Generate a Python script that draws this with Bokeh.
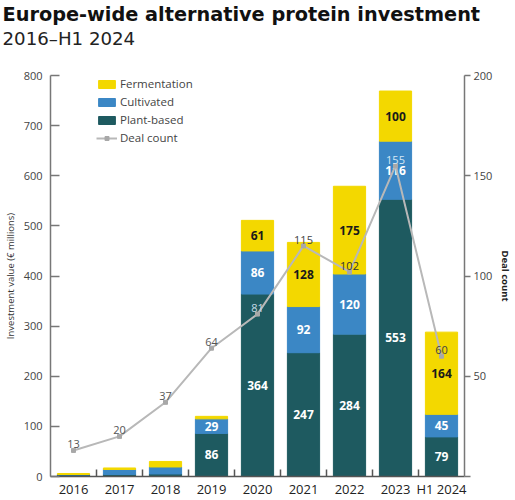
from bokeh.plotting import figure
from bokeh.models import (ColumnDataSource, Range1d, LinearAxis, FixedTicker, Title,
                          Legend, LegendItem)
from bokeh.core.properties import value
from bokeh.embed import file_html
from bokeh.resources import INLINE

years = ["2016", "2017", "2018", "2019", "2020", "2021", "2022", "2023", "H1 2024"]
plant_based = [3, 4, 5, 86, 364, 247, 284, 553, 79]
cultivated = [1, 10, 14, 29, 86, 92, 120, 116, 45]
fermentation = [2, 3, 11, 5, 61, 128, 175, 100, 164]
deal_count = [13, 20, 37, 64, 81, 115, 102, 155, 60]

C_PLANT = "#1e5a60"
C_CULT = "#3b87c5"
C_FERM = "#f3d800"
FONT = "Open Sans"
TFONT = "DejaVu Sans"

idx = list(range(len(years)))
p1 = plant_based
p2 = [a + b for a, b in zip(plant_based, cultivated)]
p3 = [a + b for a, b in zip(p2, fermentation)]

src = ColumnDataSource(dict(x=idx, b0=[0] * len(idx), b1=p1, b2=p2, b3=p3))

p = figure(width=515, height=500, output_backend="svg", toolbar_location=None,
           x_range=Range1d(-0.5, len(years) - 0.5), y_range=Range1d(0, 800),
           min_border=0, min_border_left=50, min_border_right=1, min_border_top=1,
           min_border_bottom=1, background_fill_color="white",
           border_fill_color="white", outline_line_color=None)
p.grid.visible = False

W = 0.7
r_plant = p.vbar(x="x", bottom="b0", top="b1", width=W, color=C_PLANT, source=src)
r_cult = p.vbar(x="x", bottom="b1", top="b2", width=W, color=C_CULT, source=src)
r_ferm = p.vbar(x="x", bottom="b2", top="b3", width=W, color=C_FERM, source=src)

def lab(vals, bottoms, color):
    xs, ys, ts = [], [], []
    for i, (v, b) in enumerate(zip(vals, bottoms)):
        if v >= 20:
            xs.append(i); ys.append(b + v / 2); ts.append(str(v))
    p.text(x=xs, y=ys, text=ts, text_color=color, text_align="center",
           text_baseline="middle", text_font=value(FONT), text_font_size="12px",
           text_font_style="bold")

lab(plant_based, [0] * len(idx), "white")
lab(cultivated, p1, "white")
lab(fermentation, p2, "#1a1a1a")

p.extra_y_ranges = {"deals": Range1d(0, 200)}
r_line = p.line(idx, deal_count, y_range_name="deals", line_color="#b8b8b8", line_width=2)
r_pts = p.scatter(idx, deal_count, y_range_name="deals", marker="square", size=4,
                  color="#a8a8a8")
deal_label_colors = ["#555555", "#555555", "#555555", "#555555", "#c4dbe6",
                     "#444444", "#333333", "#d6e7f5", "#444444"]
p.text(x=idx, y=deal_count, text=[str(v) for v in deal_count], y_range_name="deals",
       text_color=deal_label_colors, text_align="center", text_baseline="bottom",
       y_offset=-2, text_font=value(FONT), text_font_size="11px")

AX = "#777777"
ya = p.yaxis[0]
ya.ticker = FixedTicker(ticks=[0, 100, 200, 300, 400, 500, 600, 700, 800])
ya.axis_label = "Investment value (€ millions)"
ya.axis_label_text_font = FONT
ya.axis_label_text_font_size = "9.5px"
ya.axis_label_text_font_style = "normal"
ya.axis_label_text_color = "#333333"
ya.axis_label_standoff = 4
ya.major_label_text_font = FONT
ya.major_label_text_font_size = "11px"
ya.major_label_text_color = "#444444"
ya.major_label_standoff = 8
ya.major_tick_in = 9
ya.major_tick_out = 0
ya.minor_tick_line_color = None
ya.axis_line_color = AX
ya.axis_line_width = 1.5
ya.major_tick_line_color = AX
ya.major_tick_line_width = 1.5

ra = LinearAxis(y_range_name="deals", ticker=FixedTicker(ticks=[0, 50, 100, 150, 200]))
ra.major_label_overrides = {0: ""}
ra.axis_label = "Deal count"
ra.axis_label_text_font = FONT
ra.axis_label_text_font_size = "9.5px"
ra.axis_label_text_font_style = "bold"
ra.axis_label_text_color = "#222222"
ra.axis_label_standoff = 4
ra.major_label_text_font = FONT
ra.major_label_text_font_size = "11px"
ra.major_label_text_color = "#444444"
ra.major_label_standoff = 3
ra.major_tick_in = 0
ra.major_tick_out = 6
ra.minor_tick_in = 0
ra.minor_tick_out = 0
ra.minor_tick_line_color = None
ra.axis_line_color = AX
ra.axis_line_width = 1.5
ra.major_tick_line_color = AX
ra.major_tick_line_width = 1.5
p.add_layout(ra, "right")

xa = p.xaxis[0]
xa.ticker = FixedTicker(ticks=idx, minor_ticks=[i + 0.5 for i in idx[:-1]])
xa.major_label_overrides = {i: y for i, y in enumerate(years)}
xa.major_label_text_font = FONT
xa.major_label_text_font_size = "13px"
xa.major_label_text_color = "#222222"
xa.major_label_standoff = 3
xa.axis_label_standoff = 0
xa.major_tick_in = 0
xa.major_tick_out = 0
xa.minor_tick_in = 7
xa.minor_tick_out = 0
xa.minor_tick_line_color = "#555555"
xa.minor_tick_line_width = 1.5
xa.axis_line_color = "#555555"
xa.axis_line_width = 1.5

# titles (first added sits nearest the frame): spacer, subtitle, title
p.add_layout(Title(text=" ", text_font=TFONT, text_font_size="10px", standoff=14),
             "above")
p.add_layout(Title(text="2016–H1 2024", text_font=TFONT, text_font_size="18.2px",
                   text_font_style="normal", text_color="#222222", align="left",
                   offset=-48, standoff=0), "above")
p.add_layout(Title(text="Europe-wide alternative protein investment", text_font=TFONT,
                   text_font_size="19.3px", text_font_style="bold", text_color="#111111",
                   align="left", offset=-48, standoff=0), "above")

legend = Legend(items=[
    LegendItem(label="Fermentation", renderers=[r_ferm]),
    LegendItem(label="Cultivated", renderers=[r_cult]),
    LegendItem(label="Plant-based", renderers=[r_plant]),
    LegendItem(label="Deal count", renderers=[r_line, r_pts]),
], location=(46, 331), orientation="vertical", background_fill_alpha=0,
    border_line_color=None, padding=0, margin=0, spacing=3, glyph_width=21,
    glyph_height=10, label_height=12, label_standoff=3,
    label_text_font=FONT, label_text_font_size="11.5px", label_text_color="#444444")
p.add_layout(legend)

open("out.html", "w").write(file_html(p, INLINE))
